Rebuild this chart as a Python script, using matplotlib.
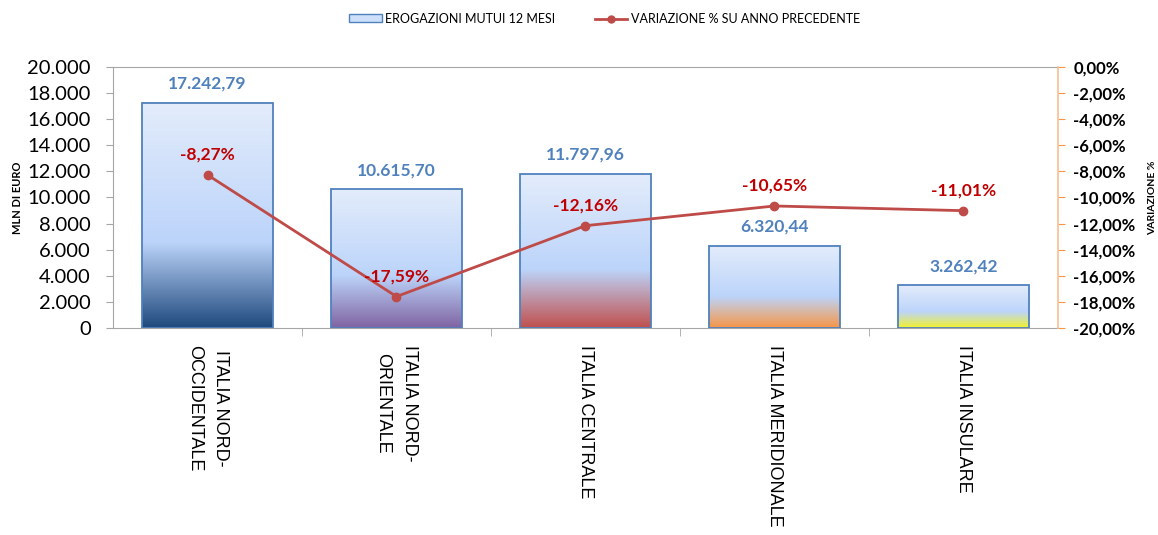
import numpy as np
import matplotlib
matplotlib.use("Agg")
import matplotlib.pyplot as plt
from matplotlib.colors import LinearSegmentedColormap, to_rgb
from matplotlib.ticker import FuncFormatter, FixedLocator
from matplotlib.lines import Line2D
from matplotlib.patches import Patch

categories = ["ITALIA NORD-\nOCCIDENTALE", "ITALIA NORD-\nORIENTALE", "ITALIA CENTRALE",
              "ITALIA MERIDIONALE", "ITALIA INSULARE"]
erogazioni = [17242.79, 10615.70, 11797.96, 6320.44, 3262.42]
variazione = [-8.27, -17.59, -12.16, -10.65, -11.01]
bottom_colors = ["#1f497d", "#8064a2", "#c0504d", "#f79646", "#f2f22a"]
left_ticks = list(range(0, 20001, 2000))
right_ticks = list(range(-20, 1, 2))

NUMFONT = "Lato"
CATFONT = "Liberation Sans"

def it_num(v, dec=0):
    s = f"{v:,.{dec}f}"
    return s.replace(",", "X").replace(".", ",").replace("X", ".")

fig = plt.figure(figsize=(11.58, 5.35), dpi=100)
ax = fig.add_axes([0.0976, 0.3869, 0.9136 - 0.0976, 0.8748 - 0.3869])
ax2 = ax.twinx()

x = np.arange(len(categories))
width = 0.69
bars = ax.bar(x, erogazioni, width=width, facecolor="none", edgecolor="#4f81bd",
              linewidth=1.3, zorder=3)

for i, (b, col) in enumerate(zip(bars, bottom_colors)):
    cmap = LinearSegmentedColormap.from_list(
        f"g{i}", [(0.0, to_rgb("#e3ecfb")), (0.62, to_rgb("#bcd4fa")), (1.0, to_rgb(col))])
    grad = np.linspace(0, 1, 256).reshape(-1, 1)
    x0 = b.get_x()
    ax.imshow(grad, cmap=cmap, aspect="auto", interpolation="bilinear",
              extent=(x0, x0 + b.get_width(), 0, b.get_height()), origin="upper", zorder=2)
    ax.annotate(it_num(erogazioni[i], 2), (x[i], erogazioni[i]), xytext=(0, 8),
                textcoords="offset points", ha="center", va="bottom",
                fontsize=12.5, fontweight="bold", color="#4f81bd", family=NUMFONT, zorder=6)

ax.set_xlim(-0.5, len(categories) - 0.5)
ax.set_ylim(0, 20000)
ax.yaxis.set_major_locator(FixedLocator(left_ticks))
ax.yaxis.set_major_formatter(FuncFormatter(lambda v, p: it_num(v)))
ax.tick_params(axis="y", which="major", direction="out", length=5, color="#a6a6a6",
               labelsize=14.5, pad=11)
for t in ax.get_yticklabels():
    t.set_fontfamily(NUMFONT)

ax.set_xticks(x)
ax.set_xticklabels(categories, rotation=-90, fontsize=13, family=CATFONT,
                   va="top", ha="center", multialignment="center", linespacing=1.75)
ax.tick_params(axis="x", which="major", length=0, pad=12)
ax.set_xticks(np.arange(-0.5, len(categories), 1.0)[1:-1], minor=True)
ax.tick_params(axis="x", which="minor", direction="out", length=6, color="#a6a6a6")

for s in ["left", "bottom", "top"]:
    ax.spines[s].set_color("#a6a6a6")
ax.spines["right"].set_visible(False)
for s in ["left", "bottom", "top"]:
    ax2.spines[s].set_visible(False)
ax2.spines["right"].set_color("#f9bf8f")
ax2.spines["right"].set_linewidth(1.2)

ax.set_ylabel("MLN DI EURO", fontsize=8, fontweight="bold", family=NUMFONT)
ax.yaxis.set_label_coords(-0.095, 0.5)

ax2.plot(x, variazione, color="#be4b48", lw=2, marker="o", markersize=6, zorder=5)
ax2.set_ylim(-20, 0)
ax2.yaxis.set_major_locator(FixedLocator(right_ticks))
ax2.yaxis.set_major_formatter(FuncFormatter(lambda v, p: it_num(v, 2) + "%"))
ax2.tick_params(axis="y", direction="out", length=5, color="#f79646", labelsize=12, pad=6)
for t in ax2.get_yticklabels():
    t.set_fontfamily(NUMFONT)
    t.set_fontweight("bold")
for i, v in enumerate(variazione):
    ax2.annotate(it_num(v, 2) + "%", (x[i], v), xytext=(0, 9), textcoords="offset points",
                 ha="center", va="bottom", fontsize=12.5, fontweight="bold",
                 color="#c00000", family=NUMFONT, zorder=7)
ax2.set_ylabel("VARIAZIONE %", fontsize=7.5, fontweight="bold", family=NUMFONT, rotation=90)
ax2.yaxis.set_label_coords(1.095, 0.5)

ax.set_zorder(ax2.get_zorder() - 1)
ax.patch.set_visible(True)
ax2.patch.set_visible(False)

handles = [Patch(facecolor="#cddff9", edgecolor="#4f81bd", linewidth=1.0),
           Line2D([0], [0], color="#be4b48", lw=2, marker="o", markersize=5)]
fig.legend(handles, ["EROGAZIONI MUTUI 12 MESI", "VARIAZIONE % SU ANNO PRECEDENTE"],
           loc="center", bbox_to_anchor=(0.522, 0.965), ncol=2, frameon=False,
           prop={"family": NUMFONT, "size": 9}, handlelength=2.6, handleheight=0.6,
           handletextpad=0.25, columnspacing=3.2)

fig.savefig("out.png", dpi=100)
